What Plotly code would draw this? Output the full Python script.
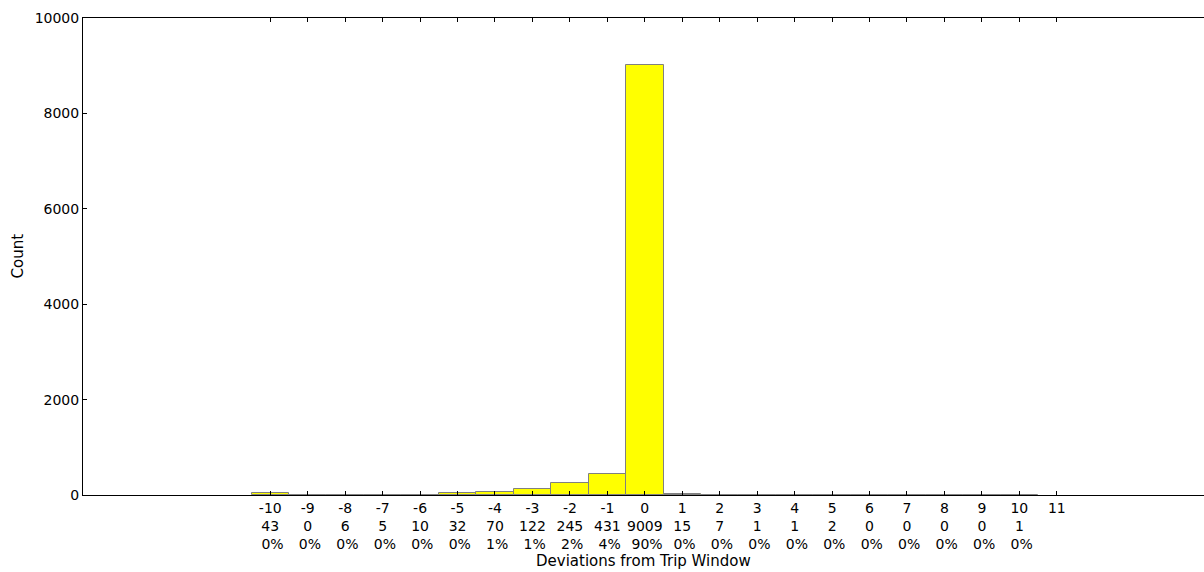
import plotly.graph_objects as go

deviations = [-10, -9, -8, -7, -6, -5, -4, -3, -2, -1, 0, 1, 2, 3, 4, 5, 6, 7, 8, 9, 10]
counts = [43, 0, 6, 5, 10, 32, 70, 122, 245, 431, 9009, 15, 7, 1, 1, 2, 0, 0, 0, 0, 1]
percents = ["0%", "0%", "0%", "0%", "0%", "0%", "1%", "1%", "2%", "4%", "90%",
            "0%", "0%", "0%", "0%", "0%", "0%", "0%", "0%", "0%", "0%"]
tick_positions = list(range(-10, 12))
y_ticks = [0, 2000, 4000, 6000, 8000, 10000]

tick_text = []
for t in tick_positions:
    if t in deviations:
        i = deviations.index(t)
        tick_text.append(f"{t}<br>{counts[i]}<br>\u00a0{percents[i]}")
    else:
        tick_text.append(f"{t}<br>\u00a0<br>\u00a0")

font = dict(family="DejaVu Sans", size=14, color="black")
title_font = dict(family="DejaVu Sans", size=15, color="black")

fig = go.Figure(go.Bar(
    x=deviations, y=counts, width=1,
    marker=dict(color="#ffff00", line=dict(color="#808080", width=1)),
    hoverinfo="x+y",
))

fig.update_layout(
    width=1204, height=572,
    margin=dict(l=83, r=0, t=18, b=77),
    plot_bgcolor="white", paper_bgcolor="white",
    font=font, showlegend=False, bargap=0,
    annotations=[
        dict(text="Deviations from Trip Window", x=0.5, y=0, xref="paper", yref="paper",
             yshift=-66, xanchor="center", yanchor="middle", showarrow=False, font=title_font),
        dict(text="Count", x=0, y=0.5, xref="paper", yref="paper", xshift=-66,
             textangle=-90, xanchor="center", yanchor="middle", showarrow=False, font=title_font),
    ],
)
fig.update_xaxes(
    range=[-15, 14.93], tickmode="array", tickvals=tick_positions, ticktext=tick_text,
    ticks="inside", ticklen=4, tickcolor="black", showgrid=False, zeroline=False,
    showline=True, linecolor="black", linewidth=1, mirror="ticks",
    tickfont=font, automargin=False,
)
fig.update_yaxes(
    range=[0, 10000], tickmode="array", tickvals=y_ticks, ticktext=[str(v) for v in y_ticks],
    ticks="inside", ticklen=4, tickcolor="black", showgrid=False, zeroline=False,
    showline=True, linecolor="black", linewidth=1, mirror=False,
    tickfont=font, automargin=False,
)

fig.write_html(
    "out.html",
    config={"displayModeBar": False},
    post_script="document.body.style.margin='0';document.body.style.overflow='hidden';",
)
